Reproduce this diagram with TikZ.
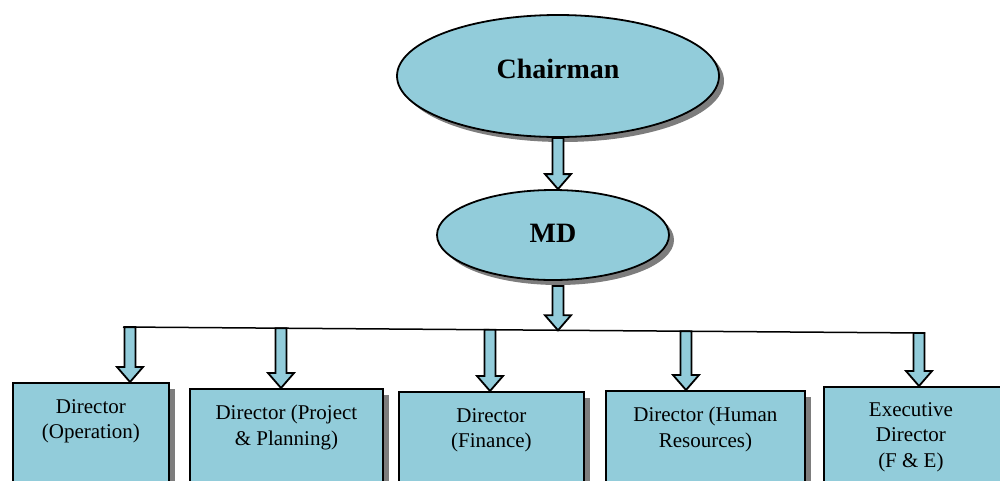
\documentclass[tikz,border=0pt]{standalone}
\usepackage{fontspec}
\setmainfont{Liberation Serif}
\usetikzlibrary{shapes.geometric,shadows,calc}
\definecolor{boxfill}{RGB}{146,204,218}
\definecolor{shadowgray}{RGB}{125,125,125}
\newcommand{\blockarrow}[2]{%
  \draw[barrow] let \p1=(#1), \p2=(#2) in
    (\x1-5.5pt,\y1) -- (\x1+5.5pt,\y1) -- (\x1+5.5pt,\y2+15pt) --
    (\x1+13pt,\y2+15pt) -- (\x1,\y2) -- (\x1-13pt,\y2+15pt) --
    (\x1-5.5pt,\y2+15pt) -- cycle;}
\begin{document}
\begin{tikzpicture}[x=1pt,y=-1pt,
  ell/.style={ellipse, draw=black, line width=1.8pt, fill=boxfill, inner sep=0pt,
    font=\fontsize{28}{32}\selectfont\bfseries,
    drop shadow={shadow xshift=5pt, shadow yshift=-5pt, fill=shadowgray, opacity=1}},
  dirbox/.style={rectangle, draw=black, line width=1.8pt, fill=boxfill, anchor=north west,
    minimum height=130pt, inner sep=0pt,
    drop shadow={shadow xshift=6pt, shadow yshift=-6pt, fill=shadowgray, opacity=1}},
  dirtext/.style={anchor=north, inner sep=0pt, align=center,
    font=\fontsize{21}{25.5}\selectfont},
  barrow/.style={draw=black, line width=1.8pt, fill=boxfill, line join=miter},
  hline/.style={draw=black, line width=1.5pt}
]
\useasboundingbox (0,0) rectangle (1000,480);
\clip (0,0) rectangle (1000,480);

% ellipses
\node[ell, minimum width=322pt, minimum height=122pt] (chair) at (558,76) {\raisebox{15pt}{Chairman}};
\node[ell, minimum width=232pt, minimum height=90pt] (md) at (553,235) {\raisebox{4pt}{MD}};

% boxes
\node[dirbox, minimum width=156pt] (b1) at (12,382) {};
\node[dirbox, minimum width=193pt] (b2) at (189,388) {};
\node[dirbox, minimum width=185pt] (b3) at (398,391) {};
\node[dirbox, minimum width=199pt] (b4) at (605,390) {};
\node[dirbox, minimum width=184pt] (b5) at (823,386) {};

\node[dirtext] (t1) at ($(b1.north)+(0,17)$) {Director\\(Operation)};
\node[dirtext] (t2) at ($(b2.north)+(0,17)$) {Director (Project\\\& Planning)};
\node[dirtext] (t3) at ($(b3.north)+(0,17)$) {Director\\(Finance)};
\node[dirtext] (t4) at ($(b4.north)+(0,17)$) {Director (Human\\Resources)};
\node[dirtext] (t5) at ($(b5.north)+(-5,16)$) {Executive\\Director\\(F \& E)};

% distribution line
\coordinate (lineL) at (123,327);
\coordinate (lineR) at (925,333);
\draw[hline] (lineL) -- (lineR);

\coordinate (mdtip) at (558,330.3);
\coordinate (a1) at (130,327.1);
\coordinate (a2) at (281,328.2);
\coordinate (a3) at (490,329.7);
\coordinate (a4) at (686,331.2);
\coordinate (a5) at (919,333.0);

% block arrows
\blockarrow{chair.south}{md.north}
\blockarrow{$(md.south)+(5,5)$}{mdtip}
\blockarrow{a1}{b1.north}
\blockarrow{a2}{b2.north}
\blockarrow{a3}{b3.north}
\blockarrow{a4}{b4.north}
\blockarrow{a5}{b5.north}
\end{tikzpicture}
\end{document}
